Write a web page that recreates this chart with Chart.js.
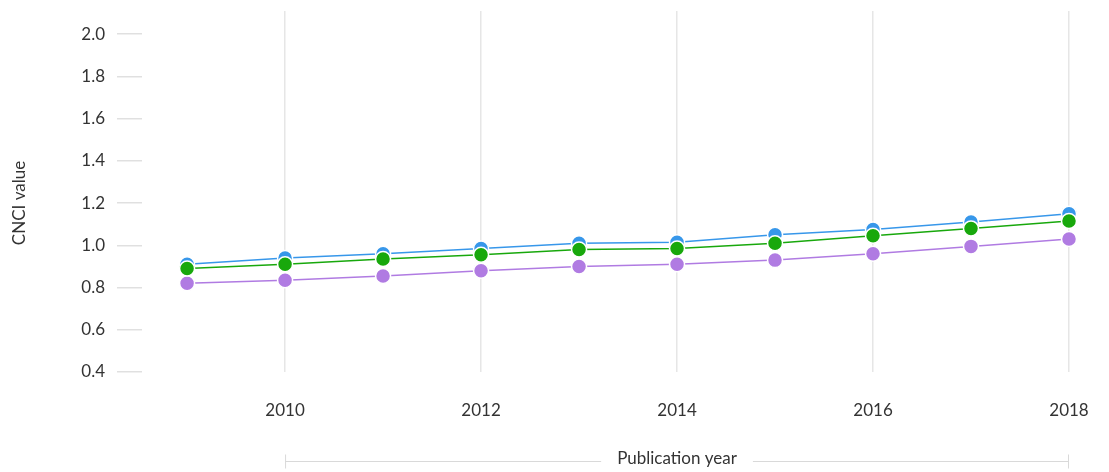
<!DOCTYPE html>
<html>
<head>
<meta charset="utf-8">
<script src="https://cdn.jsdelivr.net/npm/chart.js@4/dist/chart.umd.min.js"></script>
<style>
  html, body { margin: 0; padding: 0; background: #fff; }
  #wrap { width: 1109px; height: 472px; position: relative; }
</style>
</head>
<body>
<div id="wrap"><canvas id="cnciChart"></canvas></div>
<script>
const years = [2009, 2010, 2011, 2012, 2013, 2014, 2015, 2016, 2017, 2018];
const blueValues = [0.91, 0.94, 0.96, 0.985, 1.01, 1.015, 1.05, 1.075, 1.11, 1.15];
const greenValues = [0.89, 0.91, 0.935, 0.955, 0.98, 0.985, 1.01, 1.045, 1.08, 1.115];
const purpleValues = [0.82, 0.835, 0.855, 0.88, 0.90, 0.91, 0.93, 0.96, 0.995, 1.03];
const xTicks = [2010, 2012, 2014, 2016, 2018];
const yTicks = [0.4, 0.6, 0.8, 1.0, 1.2, 1.4, 1.6, 1.8, 2.0];

const FONT = 'Lato, "Open Sans", sans-serif';

function toPoints(vals) {
  return years.map((y, i) => ({ x: y, y: vals[i] }));
}

function series(label, vals, color, order) {
  return {
    label: label,
    data: toPoints(vals),
    borderColor: color,
    backgroundColor: color,
    borderWidth: 1.5,
    pointRadius: 7.5,
    pointBorderColor: '#fff',
    pointBorderWidth: 1.5,
    pointBackgroundColor: color,
    tension: 0,
    clip: false,
    order: order
  };
}

// axis titles: rotated y title, bracketed x title
const axisTitles = {
  id: 'axisTitles',
  afterDraw(chart) {
    const ctx = chart.ctx;
    const xs = chart.scales.x;
    ctx.save();
    ctx.font = '17px ' + FONT;
    ctx.fillStyle = '#333';
    ctx.textAlign = 'center';
    ctx.textBaseline = 'middle';

    // y title
    ctx.save();
    ctx.translate(20, 203);
    ctx.rotate(-Math.PI / 2);
    ctx.fillText('CNCI value', 0, 0);
    ctx.restore();

    // x title with bracket
    const x0 = xs.getPixelForValue(xTicks[0]);
    const x1 = xs.getPixelForValue(xTicks[xTicks.length - 1]);
    const ly = 461.5;
    const label = 'Publication year';
    const cx = (x0 + x1) / 2;
    const w = ctx.measureText(label).width;
    ctx.strokeStyle = '#d9d9d9';
    ctx.lineWidth = 1;
    ctx.beginPath();
    ctx.moveTo(x0, ly); ctx.lineTo(cx - w / 2 - 16, ly);
    ctx.moveTo(cx + w / 2 + 16, ly); ctx.lineTo(x1, ly);
    ctx.moveTo(x0 + 0.5, ly - 7); ctx.lineTo(x0 + 0.5, ly + 7);
    ctx.moveTo(x1 - 0.5, ly - 7); ctx.lineTo(x1 - 0.5, ly + 7);
    ctx.stroke();
    ctx.fillText(label, cx, ly - 3);
    ctx.restore();
  }
};

new Chart(document.getElementById('cnciChart'), {
  type: 'line',
  data: {
    datasets: [
      series('Blue', blueValues, '#3797ea', 3),
      series('Green', greenValues, '#18a80c', 1),
      series('Purple', purpleValues, '#b07be2', 2)
    ]
  },
  options: {
    responsive: true,
    maintainAspectRatio: false,
    animation: false,
    layout: { autoPadding: false, padding: { top: 11, right: 40, left: 0, bottom: 0 } },
    plugins: {
      legend: { display: false },
      tooltip: { enabled: false }
    },
    scales: {
      x: {
        type: 'linear',
        min: 2008.54,
        max: 2018,
        afterBuildTicks: (scale) => { scale.ticks = xTicks.map(v => ({ value: v })); },
        afterFit: (scale) => {
          scale.height = 100;
          scale.paddingLeft = 0;
          scale.paddingRight = 0;
        },
        grid: { color: '#e6e6e6', lineWidth: 1.5, drawTicks: false },
        border: { display: false },
        ticks: {
          color: '#333',
          font: { family: FONT, size: 17 },
          padding: 28,
          maxRotation: 0,
          callback: (v) => String(v)
        }
      },
      y: {
        min: 0.4,
        max: 2.11,
        afterBuildTicks: (scale) => { scale.ticks = yTicks.map(v => ({ value: v })); },
        afterFit: (scale) => {
          scale.width = 142;
          scale.paddingTop = 0;
          scale.paddingBottom = 0;
        },
        grid: { drawOnChartArea: false, drawTicks: true, tickLength: 25, color: '#e0e0e0', lineWidth: 1.5 },
        border: { display: false },
        ticks: {
          color: '#333',
          font: { family: FONT, size: 17 },
          padding: 12,
          callback: (v) => v.toFixed(1)
        }
      }
    }
  },
  plugins: [axisTitles]
});
</script>
</body>
</html>
